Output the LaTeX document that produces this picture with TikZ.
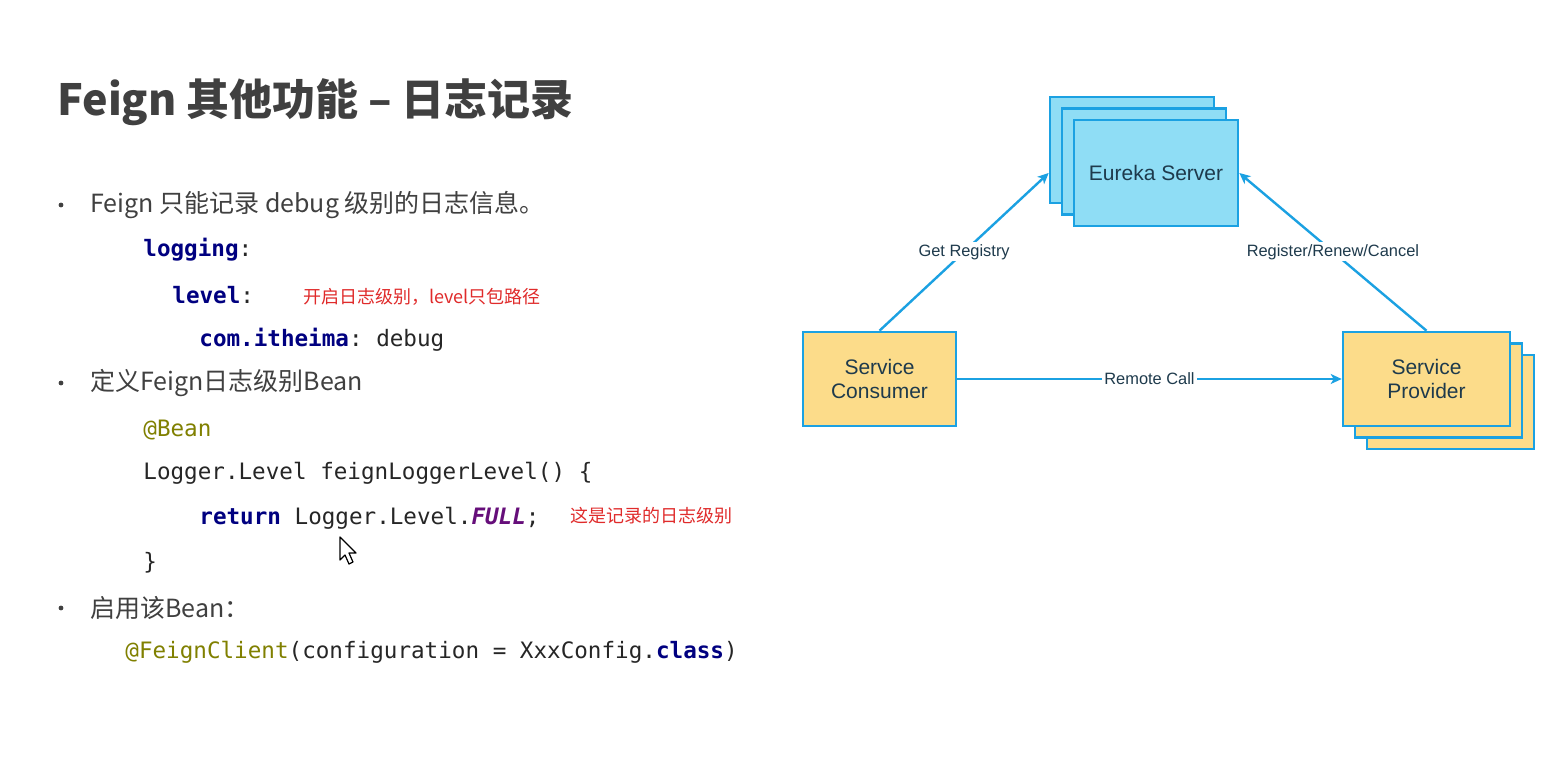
\documentclass[tikz,border=0pt]{standalone}
\usepackage{fontspec}
\setmainfont{Noto Sans CJK SC}
\setmonofont{DejaVu Sans Mono}
\newfontfamily\diagfont{Liberation Sans}
\usetikzlibrary{arrows.meta}

\definecolor{slidegray}{HTML}{404040}
\definecolor{kwnavy}{HTML}{000080}
\definecolor{annolive}{HTML}{808000}
\definecolor{constpurple}{HTML}{660E7A}
\definecolor{noteRed}{HTML}{E02B2B}
\definecolor{lineblue}{RGB}{27,161,226}
\definecolor{eurekafill}{RGB}{143,221,245}
\definecolor{servicefill}{RGB}{252,220,138}
\definecolor{diagtext}{HTML}{1E3A4C}

\tikzset{
  slidetext/.style={anchor=west, inner sep=0pt, text=slidegray, font=\fontsize{12.5}{15}\selectfont},
  codeline/.style={anchor=west, inner sep=0pt, text=black!85, font=\ttfamily\fontsize{11.3}{13}\selectfont},
  note/.style={anchor=west, inner sep=0pt, text=noteRed, font=\fontsize{9}{11}\selectfont},
  eurekabox/.style={draw=lineblue, line width=1.3pt, fill=eurekafill,
    minimum width=82pt, minimum height=53pt, text=diagtext,
    font=\diagfont\fontsize{10.5}{12}\selectfont},
  servicebox/.style={draw=lineblue, line width=1.3pt, fill=servicefill,
    minimum height=47pt, align=center, text=diagtext,
    font=\diagfont\fontsize{10.5}{12}\selectfont},
  link/.style={draw=lineblue, line width=1.2pt, -{Stealth[length=5.5pt,width=5pt,inset=1.5pt]}},
  tag/.style={fill=white, inner sep=1pt, text=diagtext, font=\diagfont\fontsize{8.2}{10}\selectfont},
}

\begin{document}
\begin{tikzpicture}[x=0.5pt, y=-0.5pt]
    \useasboundingbox[fill=white] (0,0) rectangle (1546,758);

    % Title
    \node[anchor=west, inner sep=0pt, text=slidegray, font=\bfseries\fontsize{21.5}{26}\selectfont]
      (title) at (57,102) {Feign 其他功能 – 日志记录};

    % Bullets
    \foreach \y in {205, 383, 608} {
      \fill[slidegray] (61,\y) circle (1.2pt);
    }

    % Bullet one: yaml
    \node[slidetext] (item1) at (90,205) {Feign 只能记录 debug 级别的日志信息。};
    \node[codeline] (logging) at (143,250) {\textcolor{kwnavy}{\bfseries logging}:};
    \node[codeline] (level) at (172,295) {\textcolor{kwnavy}{\bfseries level}:};
    \node[codeline] (comItheima) at (199,340) {\textcolor{kwnavy}{\bfseries com.itheima}: debug};
    \node[note] (noteLevel) at (303,297) {开启日志级别，level只包路径};

    % Bullet two: bean
    \node[slidetext] (item2) at (90,383) {定义Feign日志级别Bean};
    \node[codeline] (beanAnno) at (143,430) {\textcolor{annolive}{@Bean}};
    \node[codeline] (loggerDecl) at (143,473) {Logger.Level feignLoggerLevel() \{};
    \node[codeline] (returnLine) at (199,518)
      {\textcolor{kwnavy}{\bfseries return} Logger.Level.\textcolor{constpurple}{\bfseries\itshape FULL};};
    \node[codeline] (closeBrace) at (143,563) {\}};
    \node[note] (noteFull) at (570,516) {这是记录的日志级别};

    % Mouse pointer
    \draw[fill=white, line width=0.6pt, line join=round]
      (340,537) -- (340,560) -- (345,555) -- (349,564) -- (353,562)
      -- (349,553) -- (356,553) -- cycle;

    % Bullet three: client
    \node[slidetext] (item3) at (90,608) {启用该Bean：};
    \node[codeline] (feignClient) at (125,652)
      {\textcolor{annolive}{@FeignClient}(configuration = XxxConfig.\textcolor{kwnavy}{\bfseries class})};

    % Eureka server stack
    \foreach \i in {2, 1} {
      \node[eurekabox] (eureka-\i) at (1156-12*\i, 173-11.5*\i) {};
    }
    \node[eurekabox] (eureka) at (1156,173) {Eureka Server};

    % Consumer
    \node[servicebox, minimum width=76.5pt] (consumer) at (879.5,379) {Service\\Consumer};

    % Provider stack
    \foreach \i in {2, 1} {
      \node[servicebox, minimum width=83.5pt] (provider-\i) at (1426.5+12*\i, 379+11.5*\i) {};
    }
    \node[servicebox, minimum width=83.5pt] (provider) at (1426.5,379) {Service\\Provider};

    % Connectors
    \draw[link] (consumer.north) -- node[tag] (getRegistry) {Get Registry}
      (eureka-2.west |- eureka.west);
    \draw[link] (provider.north) -- node[tag] (registerRenew) {Register/Renew/Cancel}
      (eureka.east);
    \draw[link] (consumer.east) -- node[tag] (remoteCall) {Remote Call}
      (provider.west);
\end{tikzpicture}
\end{document}
